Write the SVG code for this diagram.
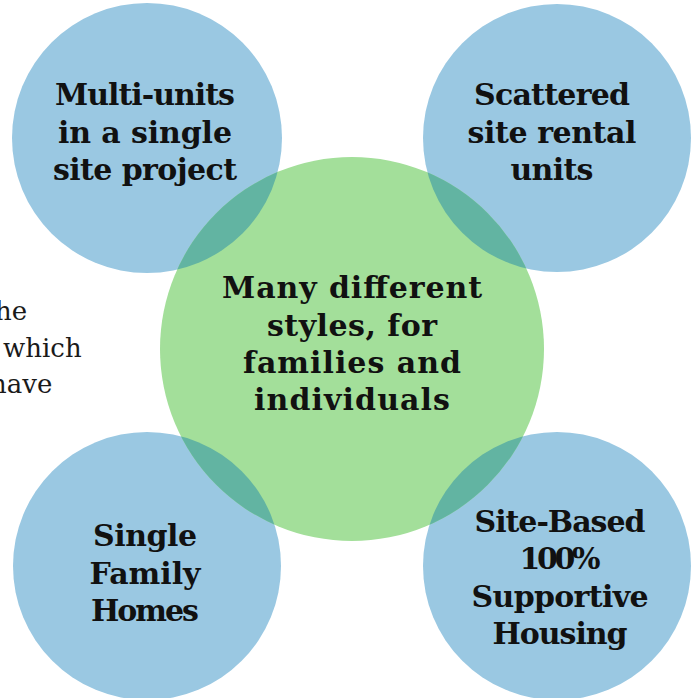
<svg xmlns="http://www.w3.org/2000/svg" width="693" height="698" viewBox="0 0 693 698">
<style>
.blue{fill:#9AC8E2}
.green{fill:#A3DF9A}
.ov{fill:#62B4A2}
.lbl{font-family:"DejaVu Serif","Liberation Serif",serif;font-weight:bold;font-size:30px;fill:#111;text-anchor:middle}
.bg{font-family:"DejaVu Serif","Liberation Serif",serif;font-size:26px;fill:#1a1a1a}
</style>
<defs>
<clipPath id="g"><circle cx="352" cy="349" r="192"/></clipPath>
</defs>
<rect width="693" height="698" fill="#fff"/>
<text class="bg" x="-5" y="320">he</text>
<text class="bg" x="3" y="357">which</text>
<text class="bg" x="-10" y="393">have</text>
<g id="connectors"></g>
<g id="n-multi"><circle class="blue" cx="147" cy="138" r="135"/></g>
<g id="n-scattered"><circle class="blue" cx="557" cy="138" r="134"/></g>
<g id="n-single"><circle class="blue" cx="147" cy="566" r="134"/></g>
<g id="n-site"><circle class="blue" cx="557" cy="566" r="134"/></g>
<g id="n-center">
<circle class="green" cx="352" cy="349" r="192"/>
<g clip-path="url(#g)">
<circle class="ov" cx="147" cy="138" r="135"/>
<circle class="ov" cx="557" cy="138" r="134"/>
<circle class="ov" cx="147" cy="566" r="134"/>
<circle class="ov" cx="557" cy="566" r="134"/>
</g>
</g>
<g id="labels">
<text class="lbl" x="145" y="105" textLength="180">Multi-units</text>
<text class="lbl" x="145" y="143" textLength="174">in a single</text>
<text class="lbl" x="145" y="180" textLength="184">site project</text>
<text class="lbl" x="552" y="105" textLength="156">Scattered</text>
<text class="lbl" x="552" y="143" textLength="169">site rental</text>
<text class="lbl" x="552" y="180" textLength="83">units</text>
<text class="lbl" x="352" y="298" textLength="260">Many different</text>
<text class="lbl" x="352" y="336" textLength="170">styles, for</text>
<text class="lbl" x="352" y="373" textLength="218">families and</text>
<text class="lbl" x="352" y="410" textLength="196">individuals</text>
<text class="lbl" x="145" y="546" textLength="104">Single</text>
<text class="lbl" x="145" y="584" textLength="111">Family</text>
<text class="lbl" x="145" y="621" textLength="108">Homes</text>
<text class="lbl" x="560" y="532" textLength="171">Site-Based</text>
<text class="lbl" x="560" y="569" textLength="81">100%</text>
<text class="lbl" x="560" y="607" textLength="177">Supportive</text>
<text class="lbl" x="560" y="644" textLength="135">Housing</text>
</g>
</svg>
